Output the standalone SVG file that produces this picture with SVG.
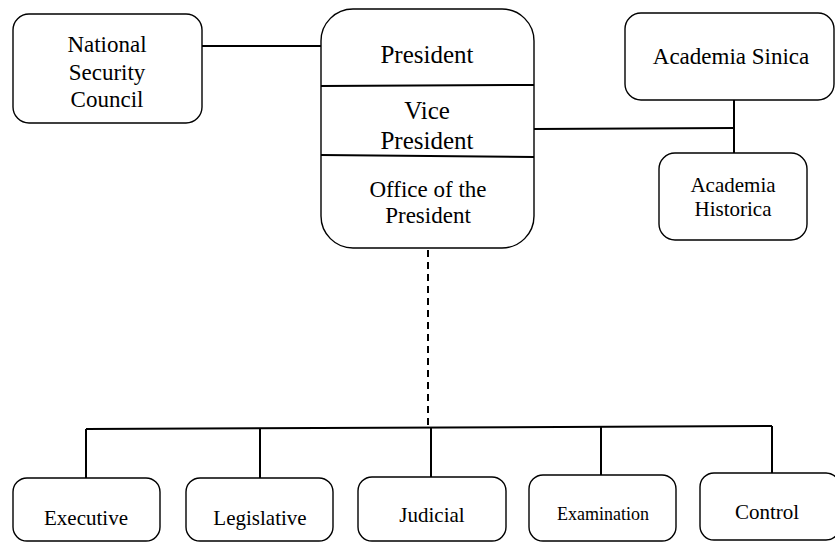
<svg xmlns="http://www.w3.org/2000/svg" width="835" height="542" viewBox="0 0 835 542" font-family="Liberation Serif, Times New Roman, serif">
<style>
.box{fill:#fff;stroke:#000;stroke-width:1.4}
.ln{stroke:#000;stroke-width:2;fill:none}
.dash{stroke-dasharray:7,5}
text{fill:#000;text-anchor:middle;font-family:"Liberation Serif","Times New Roman",serif}
</style>
<rect width="835" height="542" fill="#fff"/>
<g id="connectors">
<line class="ln" x1="202" y1="46" x2="321" y2="46"/>
<line class="ln" x1="534" y1="129" x2="734" y2="128"/>
<line class="ln" x1="734" y1="100" x2="734" y2="153"/>
<line class="ln dash" x1="428" y1="238" x2="428" y2="428"/>
<line class="ln" x1="86" y1="429" x2="772" y2="426"/>
<line class="ln" x1="86" y1="429" x2="86" y2="478"/>
<line class="ln" x1="260" y1="428" x2="260" y2="478"/>
<line class="ln" x1="431" y1="428" x2="431" y2="477"/>
<line class="ln" x1="601" y1="427" x2="601" y2="475"/>
<line class="ln" x1="772" y1="426" x2="772" y2="473"/>
</g>
<g id="nsc">
<rect class="box" x="13" y="14" width="189" height="109" rx="16"/>
<text font-size="23" x="107" y="52">National</text>
<text font-size="23" x="107" y="80">Security</text>
<text font-size="23" x="107" y="107">Council</text>
</g>
<g id="president">
<rect class="box" x="321" y="9" width="213" height="239" rx="32"/>
<line class="ln" x1="321" y1="86" x2="534" y2="85"/>
<line class="ln" x1="321" y1="155" x2="534" y2="157"/>
<text font-size="25" x="427" y="63">President</text>
<text font-size="25" x="427" y="119">Vice</text>
<text font-size="25" x="427" y="149">President</text>
<text font-size="23" x="428" y="197">Office of the</text>
<text font-size="23" x="428" y="223">President</text>
</g>
<g id="sinica">
<rect class="box" x="625" y="13" width="209" height="87" rx="16"/>
<text font-size="23" x="731" y="64">Academia Sinica</text>
</g>
<g id="historica">
<rect class="box" x="659" y="153" width="148" height="87" rx="16"/>
<text font-size="21" x="733" y="192">Academia</text>
<text font-size="21" x="733" y="216">Historica</text>
</g>
<g id="executive">
<rect class="box" x="13" y="478" width="147" height="63" rx="14"/>
<text font-size="21" x="86" y="525">Executive</text>
</g>
<g id="legislative">
<rect class="box" x="186" y="478" width="147" height="63" rx="14"/>
<text font-size="21" x="260" y="525">Legislative</text>
</g>
<g id="judicial">
<rect class="box" x="358" y="477" width="148" height="64" rx="14"/>
<text font-size="21" x="432" y="522">Judicial</text>
</g>
<g id="examination">
<rect class="box" x="529" y="475" width="147" height="66" rx="14"/>
<text font-size="18" x="603" y="520">Examination</text>
</g>
<g id="control">
<rect class="box" x="700" y="473" width="140" height="67" rx="14"/>
<text font-size="21" x="767" y="519">Control</text>
</g>
</svg>
